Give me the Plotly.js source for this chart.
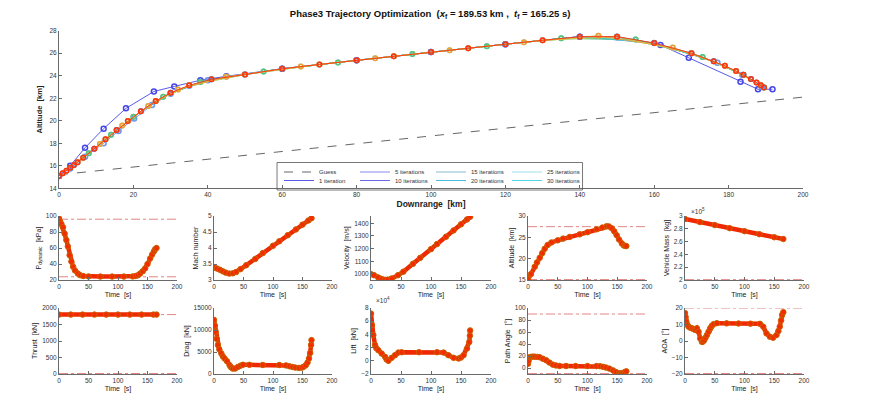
<!DOCTYPE html>
<html><head><meta charset="utf-8">
<script src="https://cdn.plot.ly/plotly-3.0.1.min.js"></script>
<style>html,body{margin:0;padding:0;background:#fff;}#chart{width:869px;height:404px;}</style>
</head><body><div id="chart"></div>
<script>
// ---------- Main plot: downrange / altitude ----------
const guess_dr = [0, 200];
const guess_alt = [15.2, 22.1];
const it1_dr = [0, 3, 7, 12, 18, 25.5, 31, 38, 45, 60, 80, 100, 120, 140, 150, 161.7, 169.3, 183.2, 187.9, 191.8];
const it1_alt = [15.1, 16.0, 17.6, 19.3, 21.1, 22.6, 23.05, 23.6, 23.95, 24.62, 25.37, 26.1, 26.8, 27.47, 27.45, 26.73, 25.6, 23.47, 22.8, 22.8];
const it5_dr = [0, 3, 7, 12, 16, 20.2, 25, 30, 35, 40, 50, 60, 80, 100, 120, 140, 150, 160, 170, 177, 183.7, 189];
const it5_alt = [15.1, 15.75, 16.8, 18.0, 19.1, 20.2, 21.4, 22.4, 23.1, 23.6, 24.1, 24.62, 25.37, 26.1, 26.8, 27.47, 27.47, 26.9, 26.0, 25.15, 24.07, 23.0];
const conv_dr = [0, 1, 2, 3, 4, 5, 6.5, 8, 9.5, 11, 12.5, 14, 15.5, 17, 18.5, 20, 22, 24, 26, 28, 30, 32, 35, 38, 41, 45, 50, 55, 60, 65, 70, 75, 80, 85, 90, 95, 100, 105, 110, 115, 120, 125, 130, 135, 140, 145, 150, 155, 160, 165, 170, 173, 176, 179, 182, 184, 186, 187.5, 188.7, 189.53];
const conv_alt = [15.10, 15.33, 15.57, 15.82, 16.06, 16.32, 16.72, 17.12, 17.52, 17.93, 18.35, 18.76, 19.17, 19.58, 19.98, 20.35, 20.85, 21.32, 21.75, 22.13, 22.48, 22.78, 23.15, 23.45, 23.68, 23.90, 24.10, 24.38, 24.62, 24.82, 25.00, 25.18, 25.37, 25.55, 25.73, 25.92, 26.10, 26.27, 26.45, 26.62, 26.80, 26.97, 27.15, 27.32, 27.47, 27.55, 27.47, 27.22, 26.90, 26.50, 26.00, 25.66, 25.28, 24.88, 24.42, 24.08, 23.70, 23.40, 23.15, 22.95];
const iter_names = ['10 iterations', '15 iterations', '20 iterations', '25 iterations', '30 iterations', '35 iterations', '40 iterations', '45 iterations', '50 iterations'];
const iter_colors = ['#5a5ae6', '#78b4c8', '#32b4dc', '#8cdce6', '#3cd2e6', '#50c878', '#e6d232', '#f0a030', '#ff3010'];

// ---------- Time histories ----------
const pdyn_t = [0, 2, 4, 6.8, 9.5, 12.5, 15, 18, 21, 23.9, 27, 32, 36, 41, 50, 70, 90, 110, 125, 130, 134, 137.5, 142, 146, 150, 154.5, 158, 161, 163, 165.25];
const pdyn = [97, 93, 90, 86, 78, 70, 62, 51, 43, 36.5, 32, 28, 26, 25, 24.5, 24.3, 24.3, 24.3, 24.5, 25, 26, 28, 31, 34.5, 40, 47, 52, 56, 58.5, 60];
const pdyn_bounds = [24, 96];
const mach_t = [0, 5, 10, 15, 20, 26, 32, 37.6, 45, 54.5, 70, 82.6, 100, 110.7, 125, 138.8, 150, 160, 165.25];
const mach = [3.39, 3.36, 3.32, 3.27, 3.23, 3.20, 3.21, 3.25, 3.34, 3.46, 3.66, 3.84, 4.07, 4.21, 4.40, 4.58, 4.73, 4.86, 4.93];
const vel_t = [0, 5, 12, 18, 23.4, 28, 34.5, 45, 54, 70, 82, 100, 110, 125, 137.6, 150, 160, 165.25];
const vel = [998, 990, 972, 960, 954, 955, 964, 990, 1018, 1080, 1127, 1196, 1236, 1294, 1344, 1392, 1431, 1452];
const alt_t = [0, 5, 11.3, 15, 19.7, 24, 28, 33, 39.4, 50, 59, 70, 87, 100, 115.5, 125, 132, 136, 141, 145, 149, 153, 157.7, 161, 163.4, 165.25];
const alt = [15.1, 16.4, 18.1, 19.1, 20.2, 21.3, 22.3, 23.2, 23.8, 24.3, 24.7, 25.1, 25.7, 26.2, 26.9, 27.3, 27.6, 27.55, 27.1, 26.4, 25.5, 24.5, 23.55, 23.1, 23.0, 22.95];
const alt_bounds = [15.1, 27.5];
const mass_t = [0, 25, 50, 75, 100, 125, 150, 165.25];
const mass_e5 = [2.953, 2.905, 2.858, 2.81, 2.763, 2.716, 2.668, 2.64];
const mass_bounds = [2.006];
const thrust_t = [0, 20, 40, 60, 80, 100, 120, 140, 160, 165.25];
const thrust = [1800, 1800, 1800, 1800, 1800, 1800, 1800, 1800, 1800, 1800];
const thrust_bounds = [15, 1800];
const drag_t = [0, 1.5, 2.8, 4.5, 6.7, 9, 12.4, 15, 18, 22, 26.4, 29, 32, 36, 40.4, 45, 49, 60, 82.6, 110.7, 122, 128, 133, 138, 144, 149, 152, 155.6, 158.5, 161, 163, 164.5, 165.25];
const drag = [12300, 11000, 9600, 8000, 6580, 5600, 4670, 4000, 3520, 2900, 2000, 1500, 1225, 1250, 1600, 1900, 2100, 2080, 2050, 2050, 1950, 1750, 1600, 1450, 1380, 1450, 1650, 2000, 2600, 3500, 4800, 6600, 7700];
const lift_t = [0, 1.7, 3.9, 6.7, 9, 12.3, 17.8, 23.4, 26, 29, 34.5, 40, 45.7, 51, 80, 110, 121, 129, 137.6, 146, 150, 154.3, 160, 163.8, 164.8, 165.25];
const lift_e4 = [7.15, 5.4, 3.9, 2.4, 1.9, 1.6, 1.1, 0.6, 0.2, 0.0, 0.45, 0.85, 1.25, 1.3, 1.3, 1.3, 1.25, 0.85, 0.45, 0.35, 0.5, 0.85, 1.85, 2.85, 3.8, 4.6];
const pa_t = [0, 1, 2.8, 5, 8.4, 12, 16, 19.5, 25, 30.6, 36, 41.8, 47, 53, 64, 80, 100, 115, 121, 126, 131, 136.7, 143, 148, 153, 156.3, 160, 162.5, 165.25];
const pa = [7, 12, 18, 18.5, 19, 18.8, 18.5, 18, 15.5, 12.9, 9, 5.6, 4.2, 3.4, 3.3, 3.3, 3.3, 3.2, 3.0, 2.0, 0.8, -1, -4, -6.7, -8.6, -9.0, -8.2, -6.8, -5.6];
const pa_bounds = [-9.3, 90];
const aoa_t = [0, 1, 2.2, 4, 6.1, 9, 11.7, 14.5, 17.3, 20, 22.8, 25.6, 28.4, 30, 32.3, 34.5, 36.8, 39.5, 42.3, 45, 48, 53.5, 70, 90, 110, 126, 131.5, 137, 142.6, 148, 153.8, 157, 159.3, 161.5, 163.2, 165.25];
const aoa = [16.9, 14.5, 11.8, 9.8, 8.7, 8.0, 7.7, 7.2, 6.7, 7.7, 5.6, 1.5, -0.5, -0.4, 0.5, 2.0, 3.6, 5.6, 7.7, 9.2, 10.2, 10.8, 10.7, 10.6, 10.5, 10.4, 8.7, 4.6, 2.6, 2.0, 3.6, 6.0, 8.7, 12.5, 15.9, 17.5];
const aoa_bounds = [-19.7, 20];
const bound_t = [0, 200];

const FONT = 'Liberation Sans, Arial, Helvetica, sans-serif';
const traces = [];

function lineTrace(x, y, name, color, legend, rank, dash) {
  return {x: x, y: y, mode: 'lines', name: name, legend: legend, legendrank: rank,
    line: {color: color, width: 0.9, dash: dash || 'solid'}, xaxis: 'x', yaxis: 'y'};
}
function markTrace(x, y, color, size, name) {
  return {x: x, y: y, mode: 'markers', showlegend: false, name: name,
    marker: {symbol: 'circle-open', size: size || 4.5, color: color, line: {width: 1.5}}, xaxis: 'x', yaxis: 'y'};
}
traces.push(lineTrace(guess_dr, guess_alt, 'Guess', '#555555', 'legend', 1, 'dash'));
traces.push(lineTrace(it1_dr, it1_alt, '1 iteration', '#4646e6', 'legend2', 5));
traces.push(markTrace(it1_dr, it1_alt, '#4646e6', 5, '1 iteration'));
traces.push(lineTrace(it5_dr, it5_alt, '5 iterations', '#7a7ae8', 'legend', 2));
traces.push(markTrace(it5_dr, it5_alt, '#6a96ee', 5, '5 iterations'));
const legendOf = ['legend2', 'legend', 'legend2', 'legend', 'legend2'];
const rankOf = [6, 3, 7, 4, 8];
iter_names.forEach((nm, k) => {
  const sel = (_, i) => (i + k) % 4 === 0 || (k === 8 && (i > 52 || i < 6 || i % 2 === 0));
  const xs = conv_dr.filter(sel), ys = conv_alt.filter(sel);
  const t = lineTrace(xs, ys, nm, iter_colors[k], k < 5 ? legendOf[k] : 'legend', k < 5 ? rankOf[k] : 99);
  t.showlegend = k < 5;
  traces.push(t);
  traces.push(markTrace(xs, ys, iter_colors[k], 4.5, nm));
});

const subs = [
  {t: pdyn_t, v: pdyn, b: pdyn_bounds, title: 'P<sub>dynamic</sub>  [kPa]', range: [20, 100], dtick: 20, tick0: 0, fmt: 'd'},
  {t: mach_t, v: mach, b: [], title: 'Mach number', range: [3, 5], dtick: 0.5, tick0: 0, fmt: ''},
  {t: vel_t, v: vel, b: [], title: 'Velocity  [m/s]', range: [952, 1458], dtick: 100, tick0: 1000, fmt: 'd'},
  {t: alt_t, v: alt, b: alt_bounds, title: 'Altitude  [km]', range: [15, 30], dtick: 5, tick0: 0, fmt: 'd'},
  {t: mass_t, v: mass_e5, b: mass_bounds, title: 'Vehicle Mass  [kg]', range: [2, 3], dtick: 0.2, tick0: 0, fmt: ''},
  {t: thrust_t, v: thrust, b: thrust_bounds, title: 'Thrust  [kN]', range: [0, 2000], dtick: 500, tick0: 0, fmt: 'd'},
  {t: drag_t, v: drag, b: [], title: 'Drag  [kN]', range: [0, 15000], dtick: 5000, tick0: 0, fmt: 'd'},
  {t: lift_t, v: lift_e4, b: [], title: 'Lift  [kN]', range: [-2, 8], dtick: 2, tick0: 0, fmt: 'd'},
  {t: pa_t, v: pa, b: pa_bounds, title: 'Path Angle  [°]', range: [-10, 100], dtick: 20, tick0: 0, fmt: 'd'},
  {t: aoa_t, v: aoa, b: aoa_bounds, title: 'AOA  [°]', range: [-20, 20], dtick: 10, tick0: 0, fmt: 'd'}
];

const W = 869, H = 404;
const colsPx = [[59, 177], [214, 332], [371, 491], [528, 647], [685, 804]];
const rowsPx = [[216, 280], [308, 374]];

const axBase = {
  showline: true, linecolor: '#6a6a6a', linewidth: 1, ticks: 'inside', ticklen: 3, tickcolor: '#6a6a6a',
  showgrid: false, zeroline: false, mirror: false, fixedrange: true, tickformat: 'd',
  tickfont: {size: 6.5, color: '#333', family: FONT}
};

const legendBase = {orientation: 'h', x: 0.496, xanchor: 'center', yanchor: 'middle',
  font: {size: 6, color: '#333', family: FONT}, bgcolor: 'rgba(0,0,0,0)', borderwidth: 0,
  itemwidth: 30, entrywidth: 31, traceorder: 'normal'};

const layout = {
  width: W, height: H, margin: {l: 0, r: 0, t: 0, b: 0},
  paper_bgcolor: '#ffffff', plot_bgcolor: '#ffffff',
  font: {family: FONT, size: 7, color: '#222'},
  title: {text: '<b>Phase3 Trajectory Optimization  (<i>x</i><sub>f</sub> = 189.53 km ,  <i>t</i><sub>f</sub> = 165.25 s)</b>',
    x: 0.495, xanchor: 'center', y: 1 - 14 / H, yanchor: 'middle', font: {size: 9.5, color: '#111', family: FONT}},
  xaxis: Object.assign({}, axBase, {domain: [59 / W, 803 / W], range: [0, 200], dtick: 20, tick0: 0, anchor: 'y',
    title: {text: '<b>Downrange  [km]</b>', font: {size: 8.5, color: '#222'}, standoff: 3}}),
  yaxis: Object.assign({}, axBase, {domain: [1 - 188.3 / H, 1 - 30.7 / H], range: [14, 28], dtick: 2, tick0: 0, anchor: 'x',
    title: {text: '<b>Altitude  [km]</b>', font: {size: 7.5, color: '#222'}, standoff: 5}}),
  showlegend: true,
  legend: Object.assign({}, legendBase, {y: 1 - 172 / H}),
  legend2: Object.assign({}, legendBase, {y: 1 - 180.5 / H}),
  shapes: [],
  annotations: [
    {text: '×10<sup>5</sup>', x: 689 / W, y: 1 - 211 / H, xref: 'paper', yref: 'paper', xanchor: 'left', yanchor: 'middle', showarrow: false, font: {size: 6.5, color: '#333'}},
    {text: '×10<sup>4</sup>', x: 374 / W, y: 1 - 300 / H, xref: 'paper', yref: 'paper', xanchor: 'left', yanchor: 'middle', showarrow: false, font: {size: 6.5, color: '#333'}}
  ]
};

subs.forEach((s, i) => {
  const n = i + 2;
  const col = colsPx[i % 5], row = rowsPx[Math.floor(i / 5)];
  const plain = s.title.replace(/<[^>]+>/g, '');
  layout['xaxis' + n] = Object.assign({}, axBase, {domain: [col[0] / W, col[1] / W], range: [0, 200], dtick: 50, tick0: 0, anchor: 'y' + n,
    title: {text: 'Time  [s]', font: {size: 7, color: '#222'}, standoff: 3}});
  layout['yaxis' + n] = Object.assign({}, axBase, {domain: [1 - row[1] / H, 1 - row[0] / H], range: s.range, dtick: s.dtick, tick0: s.tick0, anchor: 'x' + n,
    tickformat: s.fmt, title: {text: s.title, font: {size: 7, color: '#222'}, standoff: 3}});
  s.b.forEach(bv => {
    traces.push({x: bound_t, y: [bv, bv], mode: 'lines', name: plain + ' bound', showlegend: false, hoverinfo: 'skip',
      line: {color: '#e07878', width: 0.9, dash: 'dashdot'}, xaxis: 'x' + n, yaxis: 'y' + n});
  });
  traces.push({x: s.t, y: s.v, mode: 'lines+markers', name: plain, showlegend: false, line: {color: '#f02800', width: 4.5},
    marker: {symbol: 'circle', size: 5.5, color: '#f52a00', line: {color: '#c86400', width: 1}},
    xaxis: 'x' + n, yaxis: 'y' + n});
});

Plotly.newPlot('chart', traces, layout, {displayModeBar: false, staticPlot: true}).then(gd => {
  // one frame around both legend rows, as in the reference
  const root = gd.getBoundingClientRect();
  let x0 = 1e9, x1 = -1e9, y0 = 1e9, y1 = -1e9;
  gd.querySelectorAll('g.legend g.traces, g.legend2 g.traces').forEach(el => {
    const r = el.getBoundingClientRect();
    if (r.width === 0) return;
    x0 = Math.min(x0, r.left); x1 = Math.max(x1, r.right);
    y0 = Math.min(y0, r.top); y1 = Math.max(y1, r.bottom);
  });
  if (x1 > x0) {
    Plotly.relayout(gd, {shapes: [{type: 'rect', xref: 'paper', yref: 'paper',
      x0: (x0 - root.left - 2) / W, x1: (x1 - root.left + 2) / W,
      y0: 1 - (y1 - root.top) / H, y1: 1 - (y0 - root.top) / H,
      line: {color: '#555', width: 0.8}, fillcolor: 'rgba(0,0,0,0)'}]});
  }
});
</script></body></html>
